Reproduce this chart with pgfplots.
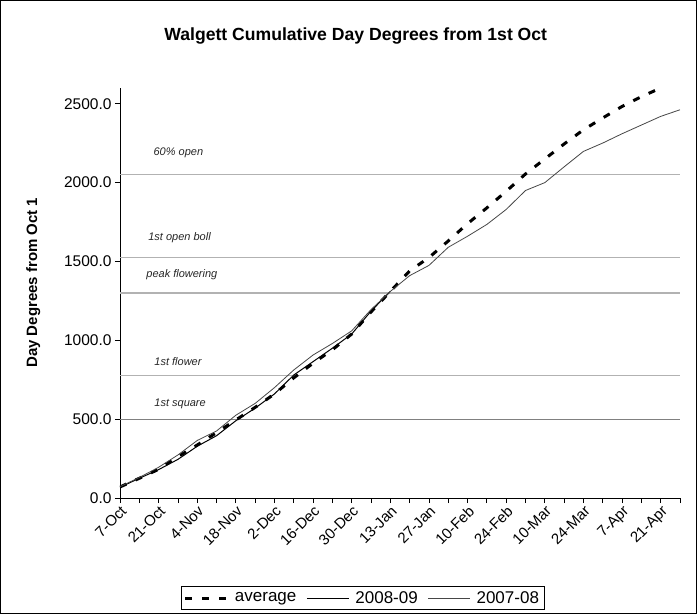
\documentclass[border=0pt]{standalone}
\usepackage{pgfplots}
\pgfplotsset{compat=1.18}
\usepackage{fontspec}
\setmainfont{Liberation Sans}
\definecolor{refgray}{RGB}{178,178,178}
\definecolor{refgray2}{RGB}{128,128,128}
\definecolor{line07}{RGB}{70,70,70}
\begin{document}
\begin{tikzpicture}
\begin{axis}[
  scale only axis,
  width=560pt, height=410pt,
  xmin=0, xmax=203, ymin=0, ymax=2600,
  axis x line*=bottom, axis y line*=left,
  axis line style={black, line width=0.8pt, -},
  tick align=outside,
  major tick length=5pt, minor tick length=5pt,
  tick style={black, line width=0.8pt},
  xtick={0,14,...,196},
  minor xtick={7,21,...,203},
  xticklabels={7-Oct,21-Oct,4-Nov,18-Nov,2-Dec,16-Dec,30-Dec,13-Jan,27-Jan,10-Feb,24-Feb,10-Mar,24-Mar,7-Apr,21-Apr},
  xticklabel style={rotate=45, anchor=north east, font=\fontsize{15}{17}\selectfont, inner sep=1pt},
  ytick={0,500,...,2500},
  yticklabel style={font=\fontsize{15.5}{17}\selectfont},
  /pgf/number format/assume math mode=true,
  /pgf/number format/fixed, /pgf/number format/fixed zerofill,
  /pgf/number format/precision=1, /pgf/number format/1000 sep={},
  ylabel={\bfseries Day Degrees from Oct 1},
  every axis y label/.style={at={(axis description cs:-0.155,0.525)}, rotate=90, anchor=center, font=\fontsize{15}{17}\selectfont},
  title={\bfseries Walgett Cumulative Day Degrees from 1st Oct},
  title style={at={(axis description cs:0.421,1.112)}, anchor=center, font=\fontsize{17.6}{19}\selectfont},
  clip=true,
  legend columns=3,
  legend style={at={(axis description cs:0.433,-0.244)}, anchor=center, draw=black, line width=0.8pt,
    font=\fontsize{17}{19}\selectfont, inner sep=3pt,
    /tikz/every even column/.append style={column sep=8pt},
    /tikz/every odd column/.append style={column sep=4pt}},
  legend image code/.code={\draw[#1] (0pt,0pt) -- (42pt,0pt);},
]
% reference lines
\addplot[refgray, line width=1.3pt, forget plot] coordinates {(0,2050) (203,2050)};
\addplot[refgray, line width=1.3pt, forget plot] coordinates {(0,1525) (203,1525)};
\addplot[refgray, line width=1.3pt, forget plot] coordinates {(0,1300) (203,1300)};
\addplot[refgray, line width=1.3pt, forget plot] coordinates {(0,775) (203,775)};
\addplot[refgray2, line width=0.9pt, forget plot] coordinates {(0,500) (203,500)};
\node[anchor=west, font=\fontsize{11}{13}\selectfont\itshape, text=black!85] at (axis cs:10.9,2189) {60\% open};
\node[anchor=west, font=\fontsize{11}{13}\selectfont\itshape, text=black!85] at (axis cs:9,1650) {1st open boll};
\node[anchor=west, font=\fontsize{11}{13}\selectfont\itshape, text=black!85] at (axis cs:8.3,1415) {peak flowering};
\node[anchor=west, font=\fontsize{11}{13}\selectfont\itshape, text=black!85] at (axis cs:11.2,863) {1st flower};
\node[anchor=west, font=\fontsize{11}{13}\selectfont\itshape, text=black!85] at (axis cs:11.2,596) {1st square};
% average
\addplot[black, line width=3pt, dash pattern=on 7pt off 10pt] coordinates {
(0,70) (7,125) (14,182) (21,262) (28,336) (35,415) (42,495) (49,575) (56,660) (63,762)
(70,855) (77,940) (84,1040) (91,1180) (98,1310) (105,1440) (112,1525) (119,1630) (126,1740)
(133,1840) (140,1945) (147,2055) (154,2150) (161,2245) (168,2335) (175,2410) (182,2483)
(189,2545) (196,2600) (203,2655)};
\addlegendentry{average}
% 2008-09
\addplot[black, line width=1pt] coordinates {
(0,68) (7,125) (14,180) (21,245) (28,328) (35,395) (42,490) (49,570) (56,660) (63,780)
(70,865) (77,950) (84,1040) (91,1185) (98,1310)};
\addlegendentry{2008-09}
% 2007-08
\addplot[line07, line width=0.8pt] coordinates {
(0,72) (7,130) (14,195) (21,273) (28,365) (35,425) (42,525) (49,600) (56,700) (63,812)
(70,907) (77,980) (84,1060) (91,1195) (98,1310) (105,1410) (112,1475) (119,1590) (126,1660)
(133,1735) (140,1830) (147,1950) (154,2000) (161,2100) (168,2198) (175,2251) (182,2310)
(189,2365) (196,2420) (203,2462)};
\addlegendentry{2007-08}
\end{axis}
\draw[black, line width=1pt] (-119.5pt,-115.5pt) rectangle (576.5pt,497.5pt);
\end{tikzpicture}
\end{document}
